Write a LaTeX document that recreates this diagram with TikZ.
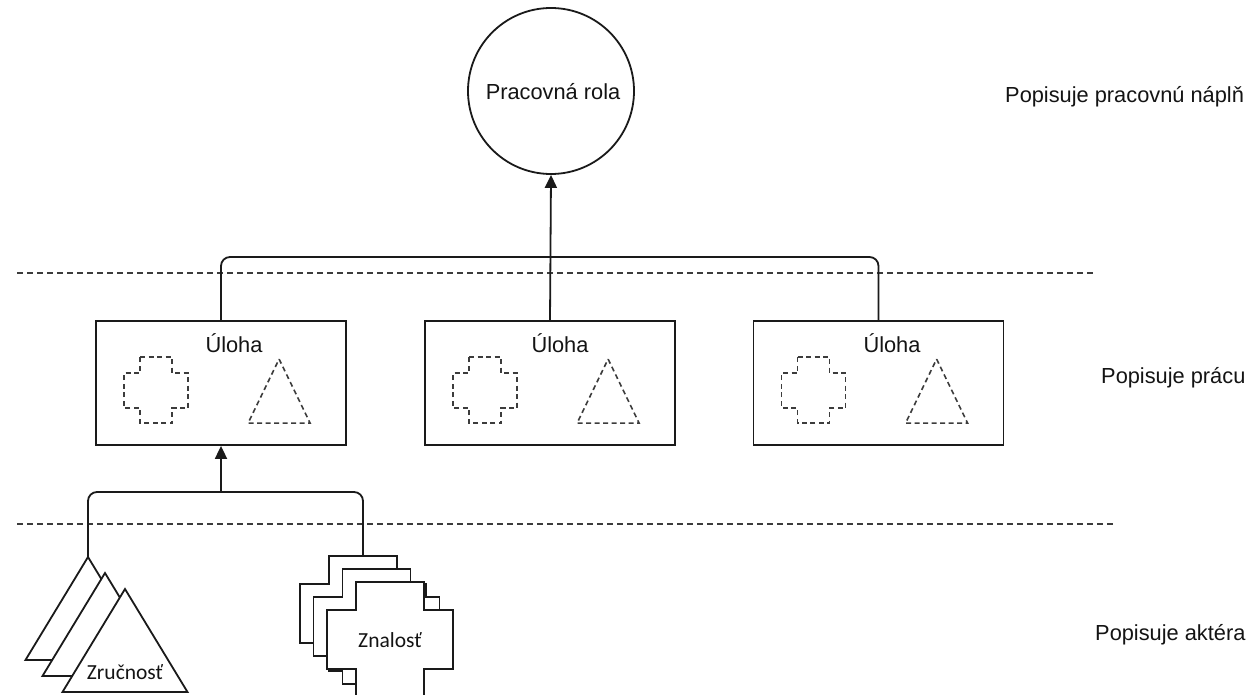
\documentclass[tikz,border=0pt]{standalone}
\usepackage{fontspec}
\setmainfont{Liberation Sans}
\newfontfamily\calfont{Carlito}
\usetikzlibrary{arrows.meta,calc}
\definecolor{lineC}{HTML}{1A1A1A}
\definecolor{sepC}{HTML}{3C3C3C}
\tikzset{
  conn/.style={draw=lineC, line width=1.8pt},
  arrowconn/.style={conn, -{Triangle[length=13pt,width=12pt]}},
  sepline/.style={draw=sepC, line width=1.8pt, dash pattern=on 6pt off 4pt},
  taskbox/.style={draw=lineC, line width=1.8pt, rectangle, minimum width=250pt, minimum height=124pt, inner sep=0pt},
  rolecircle/.style={draw=lineC, line width=1.8pt, circle, minimum size=166pt, inner sep=0pt},
  lbl/.style={font=\fontsize{21.8pt}{26pt}\selectfont, inner sep=0pt, text=black!92},
  clbl/.style={font=\calfont\fontsize{21.5pt}{25pt}\selectfont, inner sep=0pt, text=black!92},
  dashshape/.style={draw=sepC, line width=1.6pt, dash pattern=on 5pt off 3.5pt},
  solidshape/.style={draw=lineC, line width=1.8pt, fill=white},
  taskicons/.pic={
    \draw[dashshape] (45,37) -- (77,37) -- (77,53) -- (93,53) -- (93,88) -- (77,88) -- (77,103) -- (45,103) -- (45,88) -- (29,88) -- (29,53) -- (45,53) -- cycle;
    \draw[dashshape] (184,39) -- (215,103) -- (153,103) -- cycle;
  },
  skilltri/.pic={
    \path[solidshape] (0,0) -- (62.5,103) -- (-62.5,103) -- cycle;
  },
  knowcross/.pic={
    \path[solidshape] (0,0) -- (68,0) -- (68,28) -- (97,28) -- (97,87) -- (68,87) -- (68,115) -- (0,115) -- (0,87) -- (-29,87) -- (-29,28) -- (0,28) -- cycle;
  }
}
\begin{document}
\begin{tikzpicture}[x=1pt,y=-1pt]
\path[use as bounding box, clip] (0,0) rectangle (1249,695);
\fill[white] (0,0) rectangle (1249,695);

% separators
\coordinate (s1a) at (17,273);
\coordinate (s1b) at (1095,273);
\coordinate (s2a) at (17,524);
\coordinate (s2b) at (1115,524);
\draw[sepline] (s1a) -- (s1b);
\draw[sepline] (s2a) -- (s2b);

% role
\node[rolecircle] (role) at (551,91) {};
\node[lbl, anchor=base] (roletxt) at (553,100) {Pracovná rola};

% tasks
\node[taskbox] (b1) at (221,383) {};
\node[taskbox] (b2) at (550,383) {};
\node[taskbox] (b3) at (878.5,383) {};
\pic at (b1.north west) {taskicons};
\pic at (b2.north west) {taskicons};
\pic at (b3.north west) {taskicons};
\node[lbl, anchor=base] (t1) at (234,352) {Úloha};
\node[lbl, anchor=base] (t2) at (560,352) {Úloha};
\node[lbl, anchor=base] (t3) at (892,352) {Úloha};

% top connectors
\coordinate (h1) at (221,257);
\coordinate (h3) at (878.5,257);
\draw[conn, rounded corners=9pt] (b1.north) -- (h1) -- (h3) -- (b3.north);
\draw[arrowconn] (b2.north) -- (role.south);

% skills (triangles)
\coordinate (tri1) at (88,557);
\coordinate (tri2) at (105,573);
\coordinate (tri3) at (125,589);
\pic at (tri1) {skilltri};
\pic at (tri2) {skilltri};
\pic at (tri3) {skilltri};
\node[clbl, anchor=base] (zr) at (125,679) {Zručnosť};

% knowledge (crosses)
\coordinate (k1) at (329,556);
\coordinate (k2) at (342.5,569);
\coordinate (k3) at (356,582);
\pic at (k1) {knowcross};
\pic at (k2) {knowcross};
\pic at (k3) {knowcross};
\coordinate (k1top) at (363,556);
\node[clbl, anchor=base] (zn) at (390,647) {Znalosť};

% bottom connectors
\coordinate (g1) at (88,492);
\coordinate (g2) at (363,492);
\coordinate (gj) at (221,492);
\draw[conn, rounded corners=9pt] (tri1) -- (g1) -- (g2) -- (k1top);
\draw[arrowconn] (gj) -- (b1.south);

% side labels
\node[lbl, anchor=base west] (d1) at (1005,103) {Popisuje pracovnú náplň};
\node[lbl, anchor=base west] (d2) at (1101,383) {Popisuje prácu};
\node[lbl, anchor=base west] (d3) at (1095,640) {Popisuje aktéra};
\end{tikzpicture}
\end{document}
